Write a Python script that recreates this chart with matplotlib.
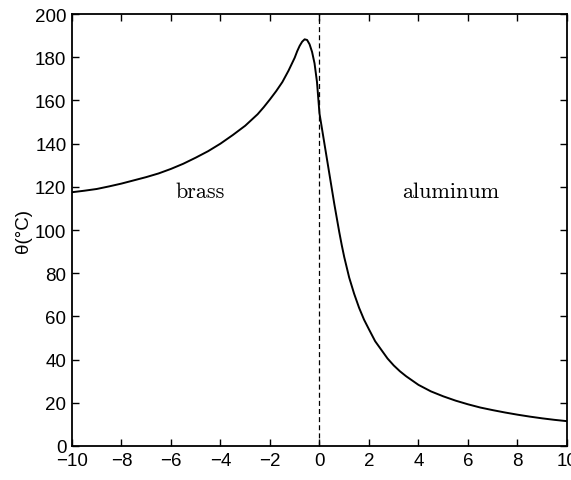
import matplotlib
matplotlib.use("Agg")
import matplotlib.pyplot as plt

# temperature profile across the brass / aluminum junction
pos = [-10, -9.5, -9, -8.5, -8, -7.5, -7, -6.5, -6, -5.5, -5, -4.5, -4, -3.5,
       -3, -2.5, -2.25, -2, -1.75, -1.5, -1.25, -1, -0.9, -0.8, -0.7, -0.6,
       -0.5, -0.4, -0.3, -0.2, -0.1, 0, 0.1, 0.2, 0.3, 0.4, 0.5, 0.6, 0.7, 0.8,
       0.9, 1.0, 1.2, 1.4, 1.6, 1.8, 2.0, 2.25, 2.5, 2.75, 3.0, 3.25, 3.5, 4.0,
       4.5, 5.0, 5.5, 6.0, 6.5, 7.0, 7.5, 8.0, 8.5, 9.0, 9.5, 10]
theta = [117.5, 118.2, 119, 120.2, 121.5, 123, 124.5, 126.2, 128.3, 130.7,
         133.5, 136.5, 140, 144, 148.3, 153.6, 156.9, 160.5, 164.3, 168.5,
         173.8, 179.8, 182.8, 185.3, 187.2, 188.3, 188, 186, 182.5, 177.2,
         168.5, 154, 147, 140, 133, 126, 119, 112, 105.5, 99, 93, 87.5, 78,
         70.5, 64, 58.5, 54, 48.5, 44.5, 40.5, 37.3, 34.6, 32.3, 28.3, 25.3, 23,
         21, 19.3, 17.8, 16.6, 15.5, 14.5, 13.6, 12.8, 12.1, 11.5]

xticks = list(range(-10, 11, 2))
yticks = list(range(0, 201, 20))
labels = ["brass", "aluminum"]
label_pos = [(-4.8, 118), (5.3, 118)]

plt.rcParams['font.family'] = ['Liberation Sans', 'DejaVu Sans']

fig = plt.figure(figsize=(5.71, 4.81), dpi=100)
ax = fig.add_axes([0.126, 0.0707, 0.867, 0.898])

ax.plot(pos, theta, color='black', linewidth=1.4)
ax.axvline(0, color='black', linestyle=(0, (4, 2.5)), linewidth=0.9)

for txt, (tx, ty) in zip(labels, label_pos):
    ax.text(tx, ty, txt, ha='center', va='center', fontsize=16,
            family=['cmr10', 'DejaVu Serif'])

ax.set_xlim(-10, 10)
ax.set_ylim(0, 200)
ax.set_xticks(xticks)
ax.set_yticks(yticks)
ax.set_xticklabels([str(v).replace('-', '\u2212') for v in xticks])
ax.tick_params(direction='in', top=True, right=True, length=5, width=1,
               labelsize=13.5, pad=4)
for s in ax.spines.values():
    s.set_linewidth(1.3)

ax.set_ylabel("θ(°C)", fontsize=13.5, labelpad=2)

fig.savefig("out.png", dpi=100)
